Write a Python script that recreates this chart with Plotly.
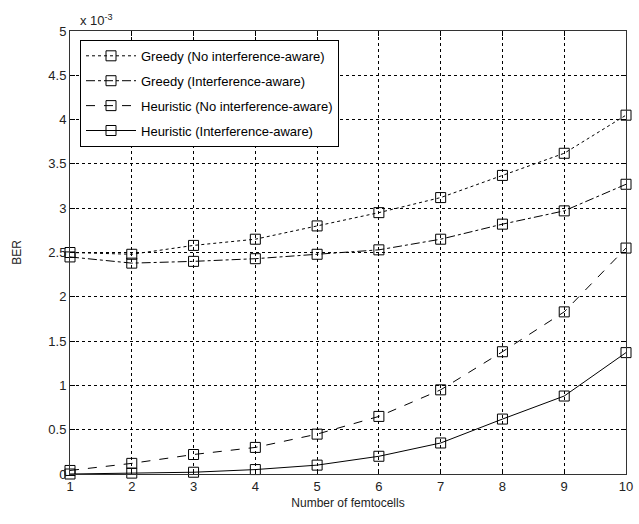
import plotly.graph_objects as go

femtocells = [1, 2, 3, 4, 5, 6, 7, 8, 9, 10]
greedy_no_ia = [2.50, 2.48, 2.58, 2.65, 2.80, 2.95, 3.12, 3.37, 3.62, 4.05]
greedy_ia = [2.45, 2.38, 2.40, 2.43, 2.48, 2.53, 2.65, 2.82, 2.97, 3.27]
heur_no_ia = [0.04, 0.12, 0.22, 0.30, 0.45, 0.65, 0.95, 1.38, 1.83, 2.55]
heur_ia = [0.00, 0.01, 0.02, 0.05, 0.10, 0.20, 0.35, 0.62, 0.88, 1.37]

series = [
    ("Greedy (No interference-aware)", greedy_no_ia, "dot"),
    ("Greedy (Interference-aware)", greedy_ia, "dashdot"),
    ("Heuristic (No interference-aware)", heur_no_ia, "dash"),
    ("Heuristic (Interference-aware)", heur_ia, "solid"),
]

FONT = "Liberation Sans, Arial"

fig = go.Figure()
for i, (name, vals, dash) in enumerate(series):
    fig.add_trace(go.Scatter(
        x=femtocells, y=vals, name=name, mode="lines+markers",
        legendgroup=f"g{i}", cliponaxis=False,
        line=dict(color="black", width=1, dash=dash),
        marker=dict(symbol="square-open", size=10, color="black", line=dict(width=1)),
    ))

axis_common = dict(
    showline=True, linecolor="#333", linewidth=1, mirror="ticks",
    ticks="inside", ticklen=5, tickcolor="black",
    showgrid=True, gridcolor="black", gridwidth=1, griddash="dot",
    zeroline=False, tickfont=dict(family=FONT, size=13, color="#222"),
    ticklabeloverflow="allow",
)

fig.update_xaxes(range=[1, 10], tickvals=femtocells, ticktext=[str(v) for v in femtocells],
                 title=dict(text="Number of femtocells", font=dict(family=FONT, size=12, color="#222"), standoff=6),
                 **axis_common)
fig.update_yaxes(range=[0, 5], tickvals=[0, 0.5, 1, 1.5, 2, 2.5, 3, 3.5, 4, 4.5, 5],
                 ticktext=["0", "0.5", "1", "1.5", "2", "2.5", "3", "3.5", "4", "4.5", "5"],
                 title=dict(text="BER", font=dict(family=FONT, size=12, color="#222"), standoff=24),
                 **axis_common)

fig.add_annotation(text="x 10<sup>-3</sup>", xref="paper", yref="paper", x=0.015, y=1.0,
                   xanchor="left", yanchor="bottom", showarrow=False, yshift=1,
                   font=dict(family=FONT, size=13, color="#222"))

fig.update_layout(
    width=639, height=524,
    margin=dict(l=70, r=6, t=31, b=50),
    plot_bgcolor="white", paper_bgcolor="white",
    legend=dict(x=0.018, y=0.98, xanchor="left", yanchor="top",
                bgcolor="white", bordercolor="black", borderwidth=1,
                font=dict(family=FONT, size=13, color="black"),
                tracegroupgap=5, itemwidth=50),
    showlegend=True,
)

fig.write_html(
    "out.html",
    config={"displayModeBar": False},
    post_script="document.body.style.margin='0';document.body.style.overflow='hidden';",
)
